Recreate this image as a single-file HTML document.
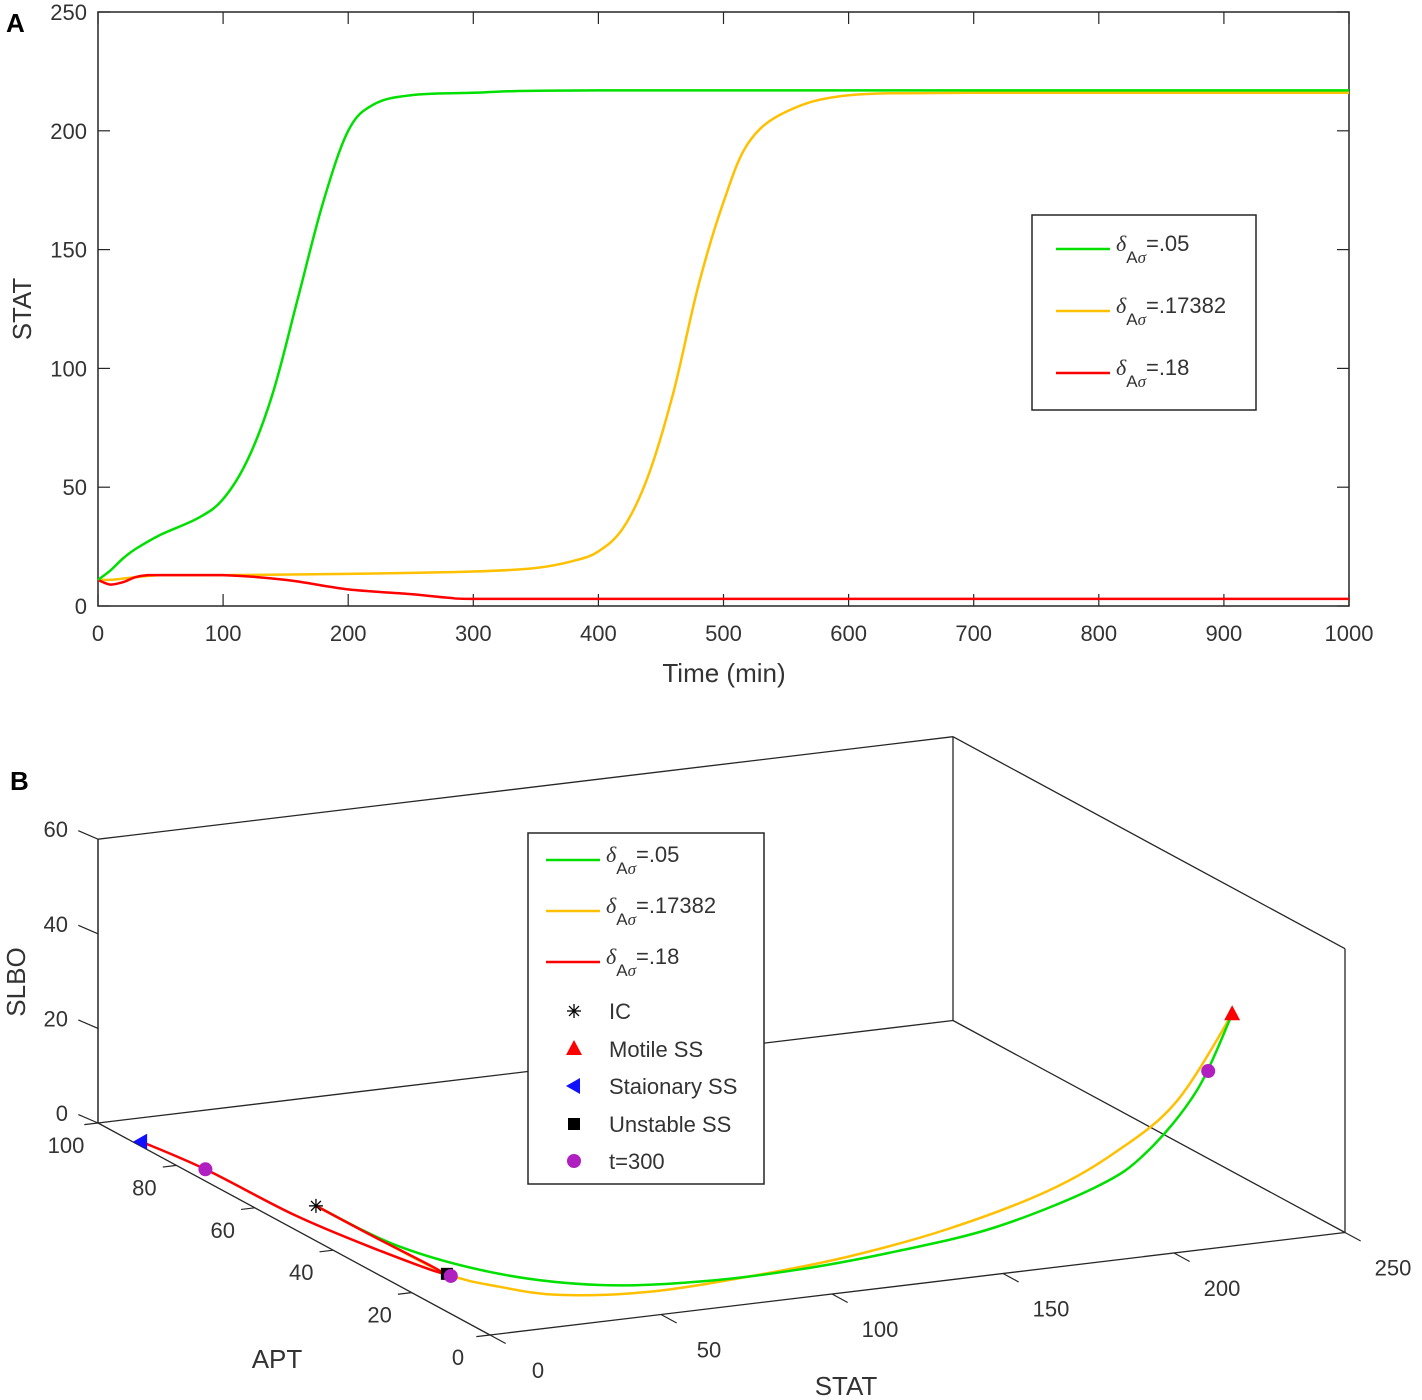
<!DOCTYPE html>
<html><head><meta charset="utf-8">
<style>
html,body{margin:0;padding:0;background:#fff;}
svg{display:block;font-family:"Liberation Sans",sans-serif;}
text{fill:#333;}
</style></head>
<body>
<svg id="fig" width="1422" height="1400" viewBox="0 0 1422 1400" xmlns="http://www.w3.org/2000/svg">
<text x="6" y="32" font-size="26" font-weight="bold" style="fill:#000">A</text>
<text x="10" y="790" font-size="26" font-weight="bold" style="fill:#000">B</text>
<g id="pa"></g>
<g id="pb"></g>
</svg>
<script>
// ---------- Panel A data ----------
const timeGreen = [0,10,20,30,50,80,100,120,140,160,180,200,220,250,300,400,1000];
const statGreen = [11,15,20,24,30,37,45,62,90,130,170,200,211,215,216,217,217];
const timeYellow = [0,10,50,100,200,300,350,380,400,420,440,460,480,500,520,550,600,700,1000];
const statYellow = [11,11,13,13,13.5,14.5,16,19,23,33,55,90,135,170,195,208,215,216,216];
const timeRed = [0,10,20,40,100,150,200,250,280,300,1000];
const statRed = [11,9,10,13,13,11,7,5,3.5,3,3];
const xTicksA = [0,100,200,300,400,500,600,700,800,900,1000];
const yTicksA = [0,50,100,150,200,250];
const legendLabels = [".05",".17382",".18"];

// ---------- Panel B data (STAT, APT, SLBO) ----------
const greenS = [0,2.2,12,32,61,90,119,148,177.5,192,206.6,217];
const greenA = [44.4,25,8,0,0,0,0,0,0,0,0,0];
const greenZ = [7.4,7.3,8.3,7.8,6,6,7.4,10,16,22,33.7,49];
const yellowS = [0,0,0,6.3,20.4,46.6,75.7,104.8,133.9,163,183.4,200.8,217];
const yellowA = [44.4,28,11,3,0,0,0,0,0,0,0,0,0];
const yellowZ = [7.4,7.6,8,8.3,6.7,5.1,5.8,7.5,10.8,16.3,23,32,49];
const redS = [0,0,0,0,0,0,0];
const redA = [44.4,30,12,30,50,72.6,89];
const redZ = [7.4,7.5,7.7,5,3,2.5,1];
const statTicks = [0,50,100,150,200,250];
const aptTicks = [0,20,40,60,80,100];
const slboTicks = [0,20,40,60];

const NS='http://www.w3.org/2000/svg';
function mk(tag, attrs, parent, txt){const e=document.createElementNS(NS,tag);for(const k in attrs)e.setAttribute(k,attrs[k]);if(txt!==undefined)e.textContent=txt;parent.appendChild(e);return e;}
function clamp(v,a,b){const lo=Math.min(a,b),hi=Math.max(a,b);return Math.max(lo,Math.min(hi,v));}
function smoothPath(pts,clampIt){
  let d='M'+pts[0][0].toFixed(1)+','+pts[0][1].toFixed(1);
  for(let i=0;i<pts.length-1;i++){
    const p0=pts[Math.max(0,i-1)],p1=pts[i],p2=pts[i+1],p3=pts[Math.min(pts.length-1,i+2)];
    let c1=[p1[0]+(p2[0]-p0[0])/6,p1[1]+(p2[1]-p0[1])/6],c2=[p2[0]-(p3[0]-p1[0])/6,p2[1]-(p3[1]-p1[1])/6];
    if(clampIt){
      c1=[clamp(c1[0],p1[0],p2[0]),clamp(c1[1],p1[1],p2[1])];
      c2=[clamp(c2[0],p1[0],p2[0]),clamp(c2[1],p1[1],p2[1])];
    }
    d+=' C'+c1[0].toFixed(1)+','+c1[1].toFixed(1)+' '+c2[0].toFixed(1)+','+c2[1].toFixed(1)+' '+p2[0].toFixed(1)+','+p2[1].toFixed(1);
  }
  return d;
}

// ---------- Panel A ----------
const pa=document.getElementById('pa');
const X0=98,X1=1349,Y0=606,Y1=12;
const xA=t=>X0+(t/1000)*(X1-X0);
const yA=v=>Y0-(v/250)*(Y0-Y1);
let r=mk('rect',{x:X0,y:Y1,width:X1-X0,height:Y0-Y1,fill:'#fff',stroke:'#262626','stroke-width':1.5},pa);


xTicksA.forEach(t=>{
  mk('line',{x1:xA(t),x2:xA(t),y1:Y0,y2:Y0-12,stroke:'#262626','stroke-width':1.2},pa);
  mk('line',{x1:xA(t),x2:xA(t),y1:Y1,y2:Y1+12,stroke:'#262626','stroke-width':1.2},pa);
  const tx=mk('text',{x:xA(t),y:641,'font-size':22,'text-anchor':'middle'},pa,String(t));
  
  
});
yTicksA.forEach(v=>{
  mk('line',{x1:X0,x2:X0+12,y1:yA(v),y2:yA(v),stroke:'#262626','stroke-width':1.2},pa);
  mk('line',{x1:X1,x2:X1-12,y1:yA(v),y2:yA(v),stroke:'#262626','stroke-width':1.2},pa);
  const tx=mk('text',{x:87,y:yA(v)+8,'font-size':22,'text-anchor':'end'},pa,String(v));
  
  
});
let xt=mk('text',{x:724,y:682,'font-size':26,'text-anchor':'middle'},pa,'Time (min)');


let yt=mk('text',{x:0,y:0,'font-size':26,'text-anchor':'middle',transform:'translate(31,309) rotate(-90)'},pa,'STAT');


function lineA(ts,vs,col,name){
  const pts=ts.map((t,i)=>[xA(t),yA(vs[i])]);
  const p=mk('path',{d:smoothPath(pts,true),fill:'none',stroke:col,'stroke-width':2.5,'stroke-linejoin':'round'},pa);
  
  
}
lineA(timeYellow,statYellow,'#ffc000','line-delta-17382');
lineA(timeRed,statRed,'#ff0000','line-delta-18');
lineA(timeGreen,statGreen,'#00e000','line-delta-05');
// legend A
const lgA=mk('g',{},pa);


mk('rect',{x:1032,y:215,width:224,height:195,fill:'#fff',stroke:'#262626','stroke-width':1.5},lgA);
const cols=['#00e000','#ffc000','#ff0000'];
function legendEntry(g,x,y,col,lab){
  const e=mk('g',{},g);
  
  
  mk('line',{x1:x,x2:x+54,y1:y,y2:y,stroke:col,'stroke-width':2.5},e);
  const t=mk('text',{x:x+60,y:y+2,'font-size':22},e);
  mk('tspan',{'font-style':'italic','font-family':'Liberation Serif'},t,'δ');
  mk('tspan',{dy:12,'font-size':17},t,'A');
  mk('tspan',{'font-style':'italic','font-size':17,'font-family':'Liberation Serif'},t,'σ');
  mk('tspan',{dy:-12},t,'='+lab);
}
legendLabels.forEach((l,i)=>legendEntry(lgA,1056,249+i*62,cols[i],l));

// ---------- Panel B ----------
const pb=document.getElementById('pb');
const OX=490,OY=1335;
function P(s,a,z){return [OX+s*3.42-a*3.92, OY-s*0.41-a*2.12-z*4.73];}
function ln(p,q,w,name){const l=mk('line',{x1:p[0],y1:p[1],x2:q[0],y2:q[1],stroke:'#262626','stroke-width':w||1.3},pb);if(name){}return l;}
ln(P(0,100,0),P(0,100,60),1.5,'box-edge');
ln(P(250,100,0),P(250,100,60),1.3,'box-edge');
ln(P(250,0,0),P(250,0,60),1.3,'box-edge');
ln(P(0,100,60),P(250,100,60),1.3,'box-edge');
ln(P(250,100,60),P(250,0,60),1.3,'box-edge');
ln(P(0,100,0),P(250,100,0),1.3,'box-edge');
ln(P(250,100,0),P(250,0,0),1.3,'box-edge');
ln(P(0,100,0),P(0,0,0),1.3,'apt-axis');
ln(P(0,0,0),P(250,0,0),1.3,'stat-axis');
statTicks.forEach(s=>{
  ln(P(s,0,0),P(s,-4,0),1.2);
  const p=P(s,0,0);
  const t=mk('text',{x:p[0]+48,y:p[1]+43,'font-size':22,'text-anchor':'middle'},pb,String(s));
  
  
});
aptTicks.forEach(a=>{
  ln(P(0,a,0),P(-4,a,0),1.2);
  const p=P(0,a,0);
  const t=mk('text',{x:p[0]-32,y:p[1]+30,'font-size':22,'text-anchor':'middle'},pb,String(a));
  
  
});
slboTicks.forEach(z=>{
  const p=P(0,100,z),q=P(0,104,z);
  ln(p,[q[0]-4,q[1]],1.2);
  const t=mk('text',{x:p[0]-30,y:p[1]-2,'font-size':22,'text-anchor':'end'},pb,String(z));
  
  
});
let tb=mk('text',{x:277,y:1368,'font-size':26,'text-anchor':'middle'},pb,'APT');


tb=mk('text',{x:846,y:1395,'font-size':26,'text-anchor':'middle'},pb,'STAT');


tb=mk('text',{x:0,y:0,'font-size':26,'text-anchor':'middle',transform:'translate(25,982) rotate(-90)'},pb,'SLBO');


function curve(S,A,Z,col,name){
  const pts=S.map((s,i)=>P(s,A[i],Z[i]));
  const p=mk('path',{d:smoothPath(pts,false),fill:'none',stroke:col,'stroke-width':2.5},pb);
  
  
}
curve(yellowS,yellowA,yellowZ,'#ffc000','trajectory-delta-17382');
curve(greenS,greenA,greenZ,'#00e000','trajectory-delta-05');
curve(redS,redA,redZ,'#ff0000','trajectory-delta-18');
function star(x,y,g){for(let k=0;k<4;k++){const an=k*Math.PI/4;mk('line',{x1:x-7*Math.cos(an),y1:y-7*Math.sin(an),x2:x+7*Math.cos(an),y2:y+7*Math.sin(an),stroke:'#000','stroke-width':1.3},g);}}
function tri(x,y,g){mk('polygon',{points:`${x},${y-9} ${x-8},${y+6} ${x+8},${y+6}`,fill:'#ff0000'},g);}
function ltri(x,y,g){mk('polygon',{points:`${x-8},${y} ${x+6},${y-8} ${x+6},${y+8}`,fill:'#1010ff'},g);}
function sq(x,y,g){mk('rect',{x:x-6,y:y-6,width:12,height:12,fill:'#000'},g);}
function dot(x,y,g){mk('circle',{cx:x,cy:y,r:7,fill:'#b020c0'},g);}
function marker(fn,pt,name){const g=mk('g',{},pb);fn(pt[0],pt[1],g);}
marker(star,P(greenS[0],greenA[0],greenZ[0]),'ic-marker');
marker(tri,P(217,0,49),'motile-ss-marker');
marker(ltri,P(redS[6],redA[6],redZ[6]),'stationary-ss-marker');
marker(sq,P(yellowS[2],yellowA[2],yellowZ[2]),'unstable-ss-marker');
marker(dot,P(210,0,37.6),'t300-marker-green');
marker(dot,P(0,10,8),'t300-marker-yellow');
marker(dot,P(0,72.6,2.5),'t300-marker-red');
const lgB=mk('g',{},pb);


mk('rect',{x:528,y:833,width:236,height:351,fill:'#fff',stroke:'#262626','stroke-width':1.5},lgB);
legendLabels.forEach((l,i)=>legendEntry(lgB,546,860+i*51,cols[i],l));
const mkLab=[['IC',star,1011],['Motile SS',tri,1049],['Staionary SS',ltri,1086],['Unstable SS',sq,1124],['t=300',dot,1161]];
mkLab.forEach(m=>{
  const e=mk('g',{},lgB);
  
  
  m[1](574,m[2],e);
  mk('text',{x:609,y:m[2]+8,'font-size':22},e,m[0]);
});
</script>
</body></html>
